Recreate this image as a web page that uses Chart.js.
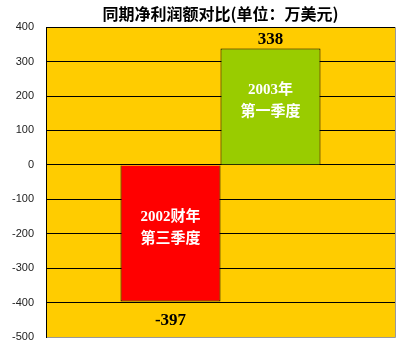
<!DOCTYPE html>
<html>
<head>
<meta charset="utf-8">
<script src="https://cdn.jsdelivr.net/npm/chart.js@4.4.0/dist/chart.umd.min.js"></script>
<style>
  html, body { margin: 0; padding: 0; background: #fff; }
  #wrap { width: 400px; height: 350px; }
</style>
</head>
<body>
<div id="wrap"><canvas id="profitChart"></canvas></div>
<script>
// data
var periods = ["2002财年\n第三季度", "2003年\n第一季度"];
var profits = [-397, 338];
var barColors = ["#ff0000", "#99cc00"];
var yTicks = [-500, -400, -300, -200, -100, 0, 100, 200, 300, 400];

// yellow plot area + border
var plotBg = {
    id: 'plotBg',
    beforeDraw: function(chart) {
        var a = chart.chartArea, ctx = chart.ctx;
        ctx.save();
        ctx.fillStyle = '#ffcc00';
        ctx.fillRect(a.left, a.top, a.right - a.left, a.bottom - a.top);
        ctx.restore();
    },
    afterDraw: function(chart) {
        var a = chart.ctx, c = chart.chartArea;
        a.save();
        a.strokeStyle = '#999';
        a.lineWidth = 1;
        a.beginPath();
        a.moveTo(c.right + 0.5, c.top);
        a.lineTo(c.right + 0.5, c.bottom + 0.5);
        a.lineTo(c.left, c.bottom + 0.5);
        a.stroke();
        a.strokeStyle = '#000';
        a.beginPath();
        a.moveTo(c.left + 0.5, c.top);
        a.lineTo(c.left + 0.5, c.bottom + 1);
        a.stroke();
        a.restore();
    }
};

// labels inside bars and values outside
var barText = {
    id: 'barText',
    afterDatasetsDraw: function(chart) {
        var ctx = chart.ctx;
        ctx.save();
        ctx.textAlign = 'center';
        ctx.textBaseline = 'middle';
        chart.data.datasets.forEach(function(ds, i) {
            var bar = chart.getDatasetMeta(i).data[0];
            var v = ds.data[0];
            var top = Math.min(bar.y, bar.base), bottom = Math.max(bar.y, bar.base);
            var mid = (top + bottom) / 2;
            var lines = periods[i].split('\n');
            ctx.fillStyle = '#fff';
            ctx.font = 'bold 15px "Liberation Serif", "Noto Sans CJK SC"';
            ctx.fillText(lines[0], bar.x, mid - 16);
            ctx.fillText(lines[1], bar.x, mid + 6);
            ctx.fillStyle = '#000';
            ctx.font = 'bold 17px "Liberation Serif"';
            if (v >= 0) {
                ctx.fillText(String(v), bar.x, top - 9);
            } else {
                ctx.fillText(String(v), bar.x, bottom + 19);
            }
        });
        ctx.restore();
    }
};

var profitChart = new Chart(document.getElementById('profitChart'), {
    type: 'bar',
    data: {
        labels: [''],
        datasets: [{
            label: periods[0],
            data: [profits[0]],
            backgroundColor: barColors[0],
            borderColor: '#000',
            borderWidth: 1
        }, {
            label: periods[1],
            data: [profits[1]],
            backgroundColor: barColors[1],
            borderColor: '#000',
            borderWidth: 1
        }]
    },
    options: {
        responsive: true,
        maintainAspectRatio: false,
        animation: false,
        datasets: {
            bar: { barPercentage: 1, categoryPercentage: 0.573 }
        },
        layout: { padding: { top: 0, right: 5, bottom: 13, left: 0 } },
        plugins: {
            legend: { display: false },
            tooltip: { enabled: false },
            title: {
                display: true,
                fullSize: false,
                text: '同期净利润额对比(单位：万美元)',
                color: '#000',
                font: { family: '"Noto Sans CJK SC"', size: 16, weight: 'bold' },
                padding: { top: 4, bottom: 4 }
            }
        },
        scales: {
            x: { display: false },
            y: {
                min: -500,
                max: 400,
                afterBuildTicks: function(axis) {
                    axis.ticks = yTicks.map(function(t) { return { value: t }; });
                },
                afterFit: function(axis) {
                    axis.width = 46;
                    axis.paddingTop = 0;
                    axis.paddingBottom = 0;
                },
                border: { display: false },
                grid: { color: '#000', lineWidth: 1, drawTicks: false },
                ticks: {
                    padding: 12,
                    color: '#222',
                    font: { family: '"Liberation Sans"', size: 11 }
                }
            }
        }
    },
    plugins: [plotBg, barText]
});
</script>
</body>
</html>
